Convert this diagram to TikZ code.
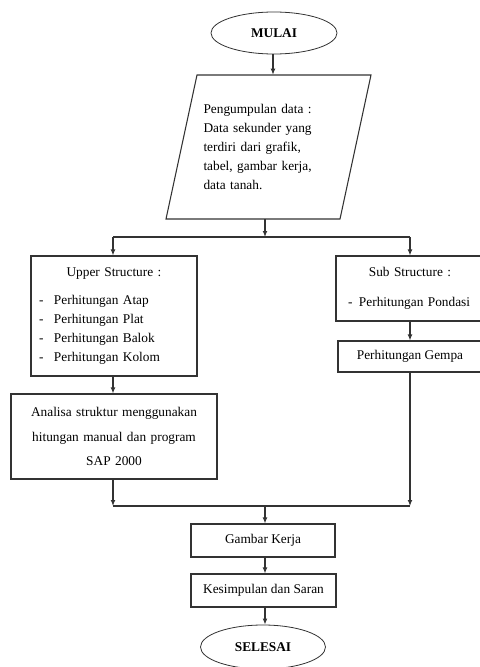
\documentclass[tikz,border=0pt]{standalone}
\usepackage{fontspec}
\setmainfont{Liberation Serif}
\usepackage{tikz}
\usetikzlibrary{positioning}
\usetikzlibrary{shapes.geometric}
\usetikzlibrary{arrows.meta}
\usetikzlibrary{calc}
\colorlet{edge}{black!80}
\tikzset{
  procbox/.style={draw=edge, line width=0.8pt, fill=white, align=center, font=\fontsize{10}{14.25}\selectfont},
  termoval/.style={draw=edge, line width=0.6pt, ellipse, font=\bfseries\fontsize{10}{12}\selectfont},
  flowline/.style={draw=edge, line width=0.8pt},
  flowarrow/.style={flowline, -{Latex[length=4.5pt,width=3.6pt]}}
}
\begin{document}
\begin{tikzpicture}[x=0.75pt, y=-0.75pt]
        \useasboundingbox (0,0) rectangle (479,667);
        % terminators and process blocks
        \node [termoval, minimum width=94.5pt, minimum height=31.5pt] (mulai) at (274,33) {MULAI};
        \node [inner sep=0pt, minimum height=108pt, text width=97.5pt, align=left, font=\fontsize{10}{14.25}\selectfont]
            (data) at (268.5,147)
            {Pengumpulan data :\\ Data sekunder yang\\ terdiri dari grafik,\\ tabel, gambar kerja,\\ data tanah.};
        \draw [flowline] ($(data.center)+(-102.5,72)$) -- ($(data.center)+(71.5,72)$)
            -- ($(data.center)+(102.5,-72)$) -- ($(data.center)+(-71.5,-72)$) -- cycle;
        \node [procbox, minimum width=124.5pt, minimum height=90pt, text width=112.5pt, align=left]
            (upper) at (114,316)
            {\makebox[112.5pt]{Upper Structure :}\\[6.75pt]
             \makebox[11.25pt][l]{-}Perhitungan Atap\\
             \makebox[11.25pt][l]{-}Perhitungan Plat\\
             \makebox[11.25pt][l]{-}Perhitungan Balok\\
             \makebox[11.25pt][l]{-}Perhitungan Kolom};
        \node [procbox, minimum width=111pt, minimum height=48.75pt, text width=93pt, align=left]
            (sub) at (410,288.5)
            {\makebox[93pt]{Sub Structure :}\\[8.25pt]
             \makebox[8.25pt][l]{-}Perhitungan Pondasi};
        \node [procbox, minimum width=108pt, minimum height=23.25pt] (gempa) at (410,356.5) {Perhitungan Gempa};
        \node [procbox, minimum width=154.5pt, minimum height=63.75pt, text width=140pt, font=\fontsize{10}{18.4}\selectfont]
            (analisa) at (114,436.5)
            {Analisa struktur menggunakan\\ hitungan manual dan program\\ SAP 2000};
        \node [procbox, minimum width=108pt, minimum height=24.75pt] (gambar) at (263,540.5) {Gambar Kerja};
        \node [procbox, minimum width=108.75pt, minimum height=24.75pt] (kesimpulan) at (263.5,590.5) {Kesimpulan dan Saran};
        \node [termoval, minimum width=93.75pt, minimum height=33pt] (selesai) at (263,647) {SELESAI};
        % branch and merge points
        \coordinate (fork) at (265,237);
        \coordinate (join) at (265,506);
        \coordinate (leftx) at (113,0);
        \coordinate (rightx) at (410,0);
        \draw [flowarrow] (mulai.south -| 273,0) -- (data.north -| 273,0);
        \draw [flowarrow] (data.south -| fork) -- (fork);
        \draw [flowline] (fork -| leftx) -- (fork -| rightx);
        \draw [flowarrow] (fork -| leftx) -- (upper.north -| leftx);
        \draw [flowarrow] (fork -| rightx) -- (sub.north -| rightx);
        \draw [flowarrow] (upper.south -| leftx) -- (analisa.north -| leftx);
        \draw [flowarrow] (sub.south -| rightx) -- (gempa.north -| rightx);
        \draw [flowarrow] (analisa.south -| leftx) -- (join -| leftx);
        \draw [flowarrow] (gempa.south -| rightx) -- (join -| rightx);
        \draw [flowline] (join -| leftx) -- (join -| rightx);
        \draw [flowarrow] (join) -- (join |- gambar.north);
        \draw [flowarrow] (gambar.south -| join) -- (kesimpulan.north -| join);
        \draw [flowarrow] (kesimpulan.south -| join) -- (selesai.north -| join);
    \end{tikzpicture}
\end{document}
